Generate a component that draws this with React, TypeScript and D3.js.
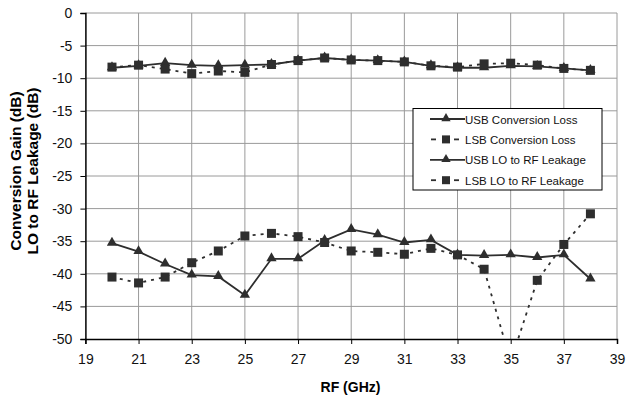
import React, { useEffect, useRef } from "react";
import * as d3 from "d3";

const freqs = [20, 21, 22, 23, 24, 25, 26, 27, 28, 29, 30, 31, 32, 33, 34, 35, 36, 37, 38];
const usbConvLoss = [-8.4, -8.1, -7.7, -8.0, -8.1, -8.0, -7.9, -7.3, -6.9, -7.2, -7.3, -7.5, -8.1, -8.4, -8.4, -8.1, -8.2, -8.5, -8.8];
const lsbConvLoss = [-8.3, -8.0, -8.6, -9.3, -8.9, -9.1, -7.9, -7.3, -6.9, -7.2, -7.3, -7.5, -8.1, -8.3, -7.8, -7.7, -8.0, -8.5, -8.8];
const usbLeakage = [-35.3, -36.6, -38.5, -40.2, -40.4, -43.3, -37.7, -37.7, -34.9, -33.2, -34.0, -35.2, -34.8, -37.1, -37.2, -37.1, -37.5, -37.1, -40.8];
const lsbLeakage = [-40.5, -41.4, -40.5, -38.3, -36.5, -34.2, -33.8, -34.3, -35.2, -36.5, -36.7, -37.0, -36.1, -37.1, -39.3, -53.5, -41.0, -35.5, -30.8];

const xTicks = [19, 21, 23, 25, 27, 29, 31, 33, 35, 37, 39];
const yTicks = [0, -5, -10, -15, -20, -25, -30, -35, -40, -45, -50];

const seriesNames = ["USB Conversion Loss", "LSB Conversion Loss", "USB LO to RF Leakage", "LSB LO to RF Leakage"];

const W = 626;
const H = 401;
const FONT = "'Liberation Sans', Arial, sans-serif";
const INK = "#2e2e2e";

const App = () => {
  const svgRef = useRef<SVGSVGElement>(null);

  useEffect(() => {
    document.body.style.margin = "0";
    const svg = d3.select(svgRef.current);
    svg.selectAll("*").remove();

    const x = d3.scaleLinear().domain([19, 39]).range([85.4, 617]);
    const y = d3.scaleLinear().domain([-50, 0]).range([339, 13]);

    svg
      .append("defs")
      .append("clipPath")
      .attr("id", "plot-clip")
      .append("rect")
      .attr("x", x(19))
      .attr("y", y(0))
      .attr("width", x(39) - x(19))
      .attr("height", y(-50) - y(0));

    // grid
    const grid = svg.append("g").attr("stroke", "#9a9a9a").attr("stroke-width", 1);
    grid
      .selectAll("line.h")
      .data(yTicks.filter((t) => t !== -50))
      .join("line")
      .attr("x1", x(19))
      .attr("x2", x(39))
      .attr("y1", (d) => y(d))
      .attr("y2", (d) => y(d));
    grid
      .selectAll("line.v")
      .data(xTicks.filter((t) => t !== 19))
      .join("line")
      .attr("x1", (d) => x(d))
      .attr("x2", (d) => x(d))
      .attr("y1", y(0))
      .attr("y2", y(-50));

    // axes
    const yAxis = svg
      .append("g")
      .attr("transform", `translate(${x(19)},0)`)
      .call(d3.axisLeft(y).tickValues(yTicks).tickSize(5).tickFormat((d) => `${d}`));
    const xAxis = svg
      .append("g")
      .attr("transform", `translate(0,${y(-50)})`)
      .call(d3.axisBottom(x).tickValues(xTicks).tickSize(5));
    [yAxis, xAxis].forEach((a) => {
      a.select(".domain").attr("stroke", "#000").attr("stroke-width", 1.5);
      a.selectAll(".tick line").attr("stroke", "#000");
      a.selectAll("text")
        .attr("font-family", FONT)
        .attr("font-size", 14)
        .attr("fill", "#111");
    });
    yAxis.selectAll("text").attr("x", -13);
    xAxis.selectAll("text").attr("y", 15);

    svg
      .append("text")
      .attr("x", 350.5)
      .attr("y", 391.5)
      .attr("text-anchor", "middle")
      .attr("font-family", FONT)
      .attr("font-size", 14)
      .attr("font-weight", "bold")
      .text("RF (GHz)");

    const yTitle = svg
      .append("text")
      .attr("transform", "translate(0,171) rotate(-90)")
      .attr("text-anchor", "middle")
      .attr("font-family", FONT)
      .attr("font-size", 15.5)
      .attr("font-weight", "bold");
    yTitle.append("tspan").attr("x", 0).attr("y", 20.5).text("Conversion Gain (dB)");
    yTitle.append("tspan").attr("x", 0).attr("y", 37.5).text("LO to RF Leakage (dB)");

    const series = [
      { name: seriesNames[0], values: usbConvLoss, dashed: false, marker: "tri" },
      { name: seriesNames[1], values: lsbConvLoss, dashed: true, marker: "sq" },
      { name: seriesNames[2], values: usbLeakage, dashed: false, marker: "tri" },
      { name: seriesNames[3], values: lsbLeakage, dashed: true, marker: "sq" },
    ];

    const line = d3
      .line<number>()
      .x((_, i) => x(freqs[i]))
      .y((d) => y(d));

    const tri = d3.symbol().type(d3.symbolTriangle).size(46);
    const plot = svg.append("g").attr("clip-path", "url(#plot-clip)");

    series.forEach((s) => {
      plot
        .append("path")
        .attr("d", line(s.values))
        .attr("fill", "none")
        .attr("stroke", INK)
        .attr("stroke-width", 1.8)
        .attr("stroke-dasharray", s.dashed ? "3,5" : null);
    });

    series.forEach((s) => {
      const pts = plot
        .selectAll(null)
        .data(s.values.map((v, i) => [freqs[i], v]).filter((p) => p[1] >= -50));
      if (s.marker === "sq") {
        pts
          .join("rect")
          .attr("x", (d) => x(d[0]) - 4.5)
          .attr("y", (d) => y(d[1]) - 4.5)
          .attr("width", 9)
          .attr("height", 9)
          .attr("fill", INK);
      } else {
        pts
          .join("path")
          .attr("d", tri)
          .attr("transform", (d) => `translate(${x(d[0])},${y(d[1]) - 0.5})`)
          .attr("fill", INK);
      }
    });

    // legend
    const lg = svg.append("g").attr("transform", "translate(413,108.5)");
    lg.append("rect")
      .attr("width", 189)
      .attr("height", 81.5)
      .attr("fill", "#fff")
      .attr("stroke", "#000")
      .attr("stroke-width", 1);
    series.forEach((s, i) => {
      const cy = 10.5 + i * 20.4;
      if (s.dashed) {
        [[18, 23], [41, 46]].forEach(([a, b]) => {
          lg.append("line")
            .attr("x1", a)
            .attr("x2", b)
            .attr("y1", cy)
            .attr("y2", cy)
            .attr("stroke", INK)
            .attr("stroke-width", 1.8);
        });
      } else {
        lg.append("line")
          .attr("x1", 17)
          .attr("x2", 52)
          .attr("y1", cy)
          .attr("y2", cy)
          .attr("stroke", INK)
          .attr("stroke-width", 1.8);
      }
      if (s.marker === "sq") {
        lg.append("rect")
          .attr("x", 29)
          .attr("y", cy - 4)
          .attr("width", 8)
          .attr("height", 8)
          .attr("fill", INK);
      } else {
        lg.append("path")
          .attr("d", d3.symbol().type(d3.symbolTriangle).size(38)())
          .attr("transform", `translate(33,${cy - 0.5})`)
          .attr("fill", INK);
      }
      lg.append("text")
        .attr("x", 52)
        .attr("y", cy + 4.5)
        .attr("font-family", FONT)
        .attr("font-size", 11.5)
        .attr("fill", "#111")
        .text(s.name);
    });
  }, []);

  return <svg ref={svgRef} width={W} height={H} style={{ display: "block", background: "#fff" }}></svg>;
};

export default App;
